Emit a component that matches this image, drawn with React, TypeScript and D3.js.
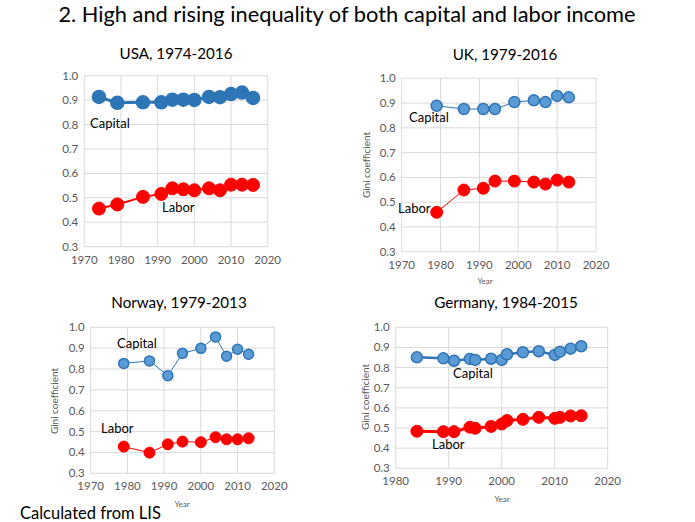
import React from "react";
import * as d3 from "d3";

// ---- data ----
const usaYears = [1974, 1979, 1986, 1991, 1994, 1997, 2000, 2004, 2007, 2010, 2013, 2016];
const usaCapital = [0.913, 0.889, 0.891, 0.891, 0.902, 0.902, 0.901, 0.913, 0.912, 0.925, 0.931, 0.909];
const usaLabor = [0.456, 0.473, 0.504, 0.516, 0.539, 0.535, 0.531, 0.539, 0.531, 0.554, 0.554, 0.553];

const ukYears = [1979, 1986, 1991, 1994, 1999, 2004, 2007, 2010, 2013];
const ukCapital = [0.889, 0.876, 0.876, 0.876, 0.904, 0.911, 0.904, 0.929, 0.923];
const ukLabor = [0.459, 0.549, 0.556, 0.585, 0.585, 0.581, 0.573, 0.589, 0.581];

const norwayYears = [1979, 1986, 1991, 1995, 2000, 2004, 2007, 2010, 2013];
const norwayCapital = [0.827, 0.839, 0.768, 0.875, 0.899, 0.954, 0.861, 0.895, 0.871];
const norwayLabor = [0.428, 0.399, 0.439, 0.452, 0.449, 0.473, 0.463, 0.463, 0.468];

const germanyYears = [1984, 1989, 1991, 1994, 1995, 1998, 2000, 2001, 2004, 2007, 2010, 2011, 2013, 2015];
const germanyCapital = [0.851, 0.846, 0.834, 0.843, 0.838, 0.844, 0.838, 0.866, 0.876, 0.881, 0.863, 0.879, 0.894, 0.906];
const germanyLabor = [0.484, 0.482, 0.482, 0.504, 0.499, 0.508, 0.52, 0.537, 0.543, 0.553, 0.548, 0.553, 0.56, 0.561];

const yTicks = [0.3, 0.4, 0.5, 0.6, 0.7, 0.8, 0.9, 1.0];
const xTicksFrom1970 = [1970, 1980, 1990, 2000, 2010, 2020];
const xTicksFrom1980 = [1980, 1990, 2000, 2010, 2020];

const FONT = "Lato, 'Open Sans', sans-serif";
const BLUE = "#2E75B6";
const LIGHT_BLUE = "#5B9BD5";
const RED = "#FF0000";
const GRID = "#D9D9D9";
const TICK = "#595959";

function Panel(props: any) {
  const p = props.cfg;
  const x = d3.scaleLinear().domain(p.xDomain).range([p.left, p.right]);
  const y = d3.scaleLinear().domain([0.3, 1.0]).range([p.bottom, p.top]);

  const capPts: [number, number][] = p.years.map((yr: number, i: number) => [x(yr), y(p.capital[i])]);
  const labPts: [number, number][] = p.years.map((yr: number, i: number) => [x(yr), y(p.labor[i])]);
  const line = d3.line();

  return (
    <g>
      <text x={p.titleX} y={p.titleY} textAnchor="middle" fontSize={15.2} fill="#000" fontFamily={FONT}>
        {p.title}
      </text>
      {/* grid */}
      {yTicks.map((t) => (
        <line key={"gy" + t} x1={p.left} x2={p.right} y1={y(t)} y2={y(t)} stroke={GRID} strokeWidth={1} />
      ))}
      {p.xTicks.map((t: number) => (
        <line key={"gx" + t} x1={x(t)} x2={x(t)} y1={p.top} y2={p.bottom} stroke={GRID} strokeWidth={1} />
      ))}
      {/* tick labels */}
      {yTicks.map((t) => (
        <text key={"ty" + t} x={p.left - 6} y={y(t)} dy="0.35em" textAnchor="end" fontSize={11.5} fill={TICK} fontFamily={FONT}>
          {d3.format(".1f")(t)}
        </text>
      ))}
      {p.xTicks.map((t: number) => (
        <text key={"tx" + t} x={x(t)} y={p.bottom + 17} textAnchor="middle" fontSize={11.5} fill={TICK} fontFamily={FONT}>
          {t}
        </text>
      ))}
      {p.showAxisTitles && (
        <g>
          <text x={p.yearX} y={p.yearY} textAnchor="middle" fontSize={8} fill={TICK} fontFamily={FONT}>Year</text>
          <text transform={`translate(${p.giniX},${p.giniY}) rotate(-90)`} textAnchor="middle" fontSize={10} fill={TICK} fontFamily={FONT}>
            Gini coefficient
          </text>
        </g>
      )}
      {/* capital */}
      <path d={line(capPts) || ""} fill="none" stroke={BLUE} strokeWidth={p.capLine} />
      {capPts.map((d, i) => (
        <circle key={"c" + i} cx={d[0]} cy={d[1]} r={p.capR} fill={p.capFill} stroke={BLUE} strokeWidth={1.5} />
      ))}
      {/* labor */}
      <path d={line(labPts) || ""} fill="none" stroke={RED} strokeWidth={p.labLine} />
      {labPts.map((d, i) => (
        <circle key={"l" + i} cx={d[0]} cy={d[1]} r={p.labR} fill={RED} stroke={RED} strokeWidth={1} />
      ))}
      <text x={p.capLabel[0]} y={p.capLabel[1]} dy="0.35em" fontSize={13} fill="#000" fontFamily={FONT}>Capital</text>
      <text x={p.labLabel[0]} y={p.labLabel[1]} dy="0.35em" fontSize={13} fill="#000" fontFamily={FONT}>Labor</text>
    </g>
  );
}

const panels = [
  {
    title: "USA, 1974-2016", titleX: 176, titleY: 59,
    years: usaYears, capital: usaCapital, labor: usaLabor,
    xDomain: [1970, 2020], xTicks: xTicksFrom1970,
    left: 84.3, right: 267.7, top: 75.7, bottom: 246.7,
    capR: 6.5, labR: 6.5, capFill: BLUE, capLine: 3, labLine: 2,
    capLabel: [90, 123], labLabel: [162, 207], showAxisTitles: false,
  },
  {
    title: "UK, 1979-2016", titleX: 505, titleY: 60,
    years: ukYears, capital: ukCapital, labor: ukLabor,
    xDomain: [1970, 2020], xTicks: xTicksFrom1970,
    left: 401.7, right: 596, top: 78.3, bottom: 251.7,
    capR: 5.5, labR: 6, capFill: LIGHT_BLUE, capLine: 1, labLine: 1,
    capLabel: [409, 117], labLabel: [398, 208], showAxisTitles: true,
    yearX: 485, yearY: 284, giniX: 370, giniY: 165,
  },
  {
    title: "Norway, 1979-2013", titleX: 179, titleY: 308,
    years: norwayYears, capital: norwayCapital, labor: norwayLabor,
    xDomain: [1970, 2020], xTicks: xTicksFrom1970,
    left: 90.7, right: 274.3, top: 327.3, bottom: 473.3,
    capR: 5, labR: 5.5, capFill: LIGHT_BLUE, capLine: 1, labLine: 1,
    capLabel: [117, 343], labLabel: [101, 428], showAxisTitles: true,
    yearX: 182, yearY: 507, giniX: 58, giniY: 401,
  },
  {
    title: "Germany, 1984-2015", titleX: 506, titleY: 308,
    years: germanyYears, capital: germanyCapital, labor: germanyLabor,
    xDomain: [1980, 2020], xTicks: xTicksFrom1980,
    left: 395.7, right: 607.7, top: 327.3, bottom: 468.3,
    capR: 5.5, labR: 6, capFill: LIGHT_BLUE, capLine: 2.5, labLine: 3,
    capLabel: [453, 373], labLabel: [432, 444], showAxisTitles: true,
    yearX: 502, yearY: 502, giniX: 369, giniY: 397,
  },
];

export default function App() {
  return (
    <svg width={695} height={522} style={{ position: "absolute", left: 0, top: 0, background: "#fff" }}>
      <text x={347} y={22} textAnchor="middle" fontSize={21.8} fill="#000" fontFamily={FONT}>
        2. High and rising inequality of both capital and labor income
      </text>
      {panels.map((cfg, i) => (
        <Panel key={i} cfg={cfg} />
      ))}
      <text x={20} y={519} fontSize={16.5} fill="#000" fontFamily={FONT}>Calculated from LIS</text>
    </svg>
  );
}
